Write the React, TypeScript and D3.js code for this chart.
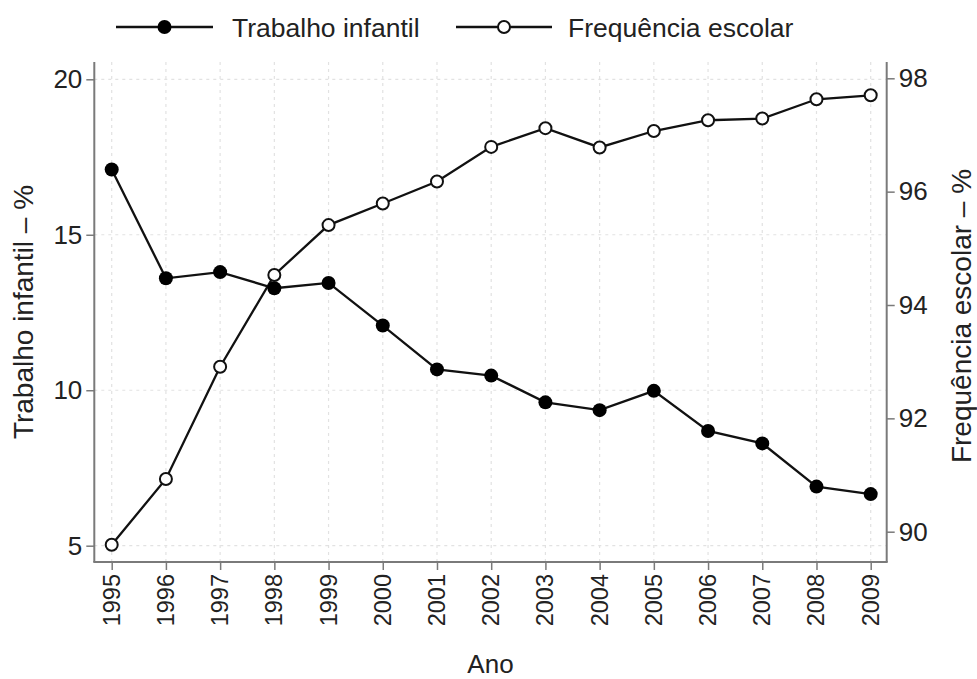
import { useEffect, useRef } from 'react';
import * as d3 from 'd3';

const years = [1995, 1996, 1997, 1998, 1999, 2000, 2001, 2002, 2003, 2004, 2005, 2006, 2007, 2008, 2009];
const trabalhoInfantil = [17.1, 13.6, 13.8, 13.28, 13.45, 12.08, 10.67, 10.47, 9.61, 9.36, 9.98, 8.69, 8.29, 6.9, 6.66];
const frequenciaEscolar = [89.77, 90.93, 92.91, 94.53, 95.41, 95.79, 96.18, 96.79, 97.12, 96.78, 97.07, 97.26, 97.29, 97.63, 97.7];
const leftTicks = [5, 10, 15, 20];
const rightTicks = [90, 92, 94, 96, 98];

const FONT = '"Liberation Sans", Arial, Helvetica, sans-serif';

const App: React.FC = () => {
  const svgRef = useRef<SVGSVGElement | null>(null);

  useEffect(() => {
    if (svgRef.current === null) return;
    const svg = d3.select(svgRef.current);
    svg.selectAll('*').remove();

    const width = 977;
    const height = 679;
    // moldura do gráfico
    const left = 94.3;
    const right = 886.7;
    const top = 62;
    const bottom = 562;

    const x = d3.scaleLinear().domain([1995, 2009]).range([111.7, 870.7]);
    const yLeft = d3.scaleLinear().domain([5, 20]).range([545.7, 79.3]);
    const yRight = d3.scaleLinear().domain([90, 98]).range([531.7, 78.3]);

    svg.attr('width', width).attr('height', height);
    svg.append('rect').attr('width', width).attr('height', height).attr('fill', '#fff');

    // grade
    const grid = svg.append('g').attr('stroke', '#e2e2e2').attr('stroke-width', 1.2).attr('stroke-dasharray', '3,4');
    grid
      .selectAll('.vgrid')
      .data(years)
      .enter()
      .append('line')
      .attr('x1', (d) => x(d))
      .attr('x2', (d) => x(d))
      .attr('y1', top)
      .attr('y2', bottom);
    grid
      .selectAll('.hgrid')
      .data(leftTicks)
      .enter()
      .append('line')
      .attr('x1', left)
      .attr('x2', right)
      .attr('y1', (d) => yLeft(d))
      .attr('y2', (d) => yLeft(d));

    const axisColor = '#7a7a7a';
    const textColor = '#222';

    // eixo esquerdo
    const gl = svg.append('g').attr('transform', `translate(${left},0)`);
    gl.call(d3.axisLeft(yLeft).tickValues(leftTicks).tickSize(8).tickPadding(4).tickFormat(d3.format('d')));
    gl.select('.domain').remove();
    gl.selectAll('.tick line').attr('stroke', axisColor).attr('stroke-width', 1.5);
    gl.selectAll('.tick text').attr('fill', textColor).style('font-size', '26px').style('font-family', FONT);

    // eixo direito
    const gr = svg.append('g').attr('transform', `translate(${right},0)`);
    gr.call(d3.axisRight(yRight).tickValues(rightTicks).tickSize(8).tickPadding(4).tickFormat(d3.format('d')));
    gr.select('.domain').remove();
    gr.selectAll('.tick line').attr('stroke', axisColor).attr('stroke-width', 1.5);
    gr.selectAll('.tick text').attr('fill', textColor).style('font-size', '26px').style('font-family', FONT);

    // eixo dos anos
    const gb = svg.append('g').attr('transform', `translate(0,${bottom})`);
    gb.call(d3.axisBottom(x).tickValues(years).tickSize(8).tickPadding(4).tickFormat(d3.format('d')));
    gb.select('.domain').remove();
    gb.selectAll('.tick line').attr('stroke', axisColor).attr('stroke-width', 1.5);
    gb.selectAll('.tick text')
      .attr('fill', textColor)
      .style('font-size', '23.5px')
      .style('font-family', FONT)
      .attr('text-anchor', 'end')
      .attr('dy', '0.36em')
      .attr('transform', 'translate(-1,12) rotate(-90)')
      .attr('y', 0)
      .attr('x', 0);

    // linhas da moldura
    const frame = svg.append('g').attr('stroke', axisColor).attr('stroke-width', 2).attr('fill', 'none');
    frame.append('line').attr('x1', left).attr('x2', left).attr('y1', top).attr('y2', bottom);
    frame.append('line').attr('x1', right).attr('x2', right).attr('y1', top).attr('y2', bottom);
    frame.append('line').attr('x1', left - 1).attr('x2', right + 1).attr('y1', bottom).attr('y2', bottom);

    // séries
    const lineLeft = d3
      .line<number>()
      .x((_, i) => x(years[i]))
      .y((d) => yLeft(d));
    const lineRight = d3
      .line<number>()
      .x((_, i) => x(years[i]))
      .y((d) => yRight(d));

    svg
      .append('path')
      .datum(trabalhoInfantil)
      .attr('d', lineLeft)
      .attr('fill', 'none')
      .attr('stroke', '#111')
      .attr('stroke-width', 2.3);
    svg
      .append('path')
      .datum(frequenciaEscolar)
      .attr('d', lineRight)
      .attr('fill', 'none')
      .attr('stroke', '#111')
      .attr('stroke-width', 2.3);

    svg
      .selectAll('.dot-ti')
      .data(trabalhoInfantil)
      .enter()
      .append('circle')
      .attr('cx', (_, i) => x(years[i]))
      .attr('cy', (d) => yLeft(d))
      .attr('r', 7)
      .attr('fill', '#000');
    svg
      .selectAll('.dot-fe')
      .data(frequenciaEscolar)
      .enter()
      .append('circle')
      .attr('cx', (_, i) => x(years[i]))
      .attr('cy', (d) => yRight(d))
      .attr('r', 6)
      .attr('fill', '#fff')
      .attr('stroke', '#111')
      .attr('stroke-width', 2);

    // títulos dos eixos
    svg
      .append('text')
      .attr('transform', `translate(33,${(top + bottom) / 2}) rotate(-90)`)
      .attr('text-anchor', 'middle')
      .attr('fill', textColor)
      .style('font-size', '28px')
      .style('font-family', FONT)
      .text('Trabalho infantil – %');
    svg
      .append('text')
      .attr('transform', `translate(971,${(top + bottom) / 2 + 4}) rotate(-90)`)
      .attr('text-anchor', 'middle')
      .attr('fill', textColor)
      .style('font-size', '28px')
      .style('font-family', FONT)
      .text('Frequência escolar – %');
    svg
      .append('text')
      .attr('x', (left + right) / 2)
      .attr('y', 673)
      .attr('text-anchor', 'middle')
      .attr('fill', textColor)
      .style('font-size', '26px')
      .style('font-family', FONT)
      .text('Ano');

    // legenda
    const legendItems = [
      { label: 'Trabalho infantil', filled: true, x0: 116, x1: 213, tx: 232 },
      { label: 'Frequência escolar', filled: false, x0: 456, x1: 552, tx: 568 },
    ];
    const ly = 27;
    const lg = svg.append('g');
    legendItems.forEach((item) => {
      lg.append('line')
        .attr('x1', item.x0)
        .attr('x2', item.x1)
        .attr('y1', ly)
        .attr('y2', ly)
        .attr('stroke', '#111')
        .attr('stroke-width', 2.3);
      lg.append('circle')
        .attr('cx', (item.x0 + item.x1) / 2)
        .attr('cy', ly)
        .attr('r', item.filled ? 7 : 6)
        .attr('fill', item.filled ? '#000' : '#fff')
        .attr('stroke', '#111')
        .attr('stroke-width', item.filled ? 0 : 2);
      lg.append('text')
        .attr('x', item.tx)
        .attr('y', ly)
        .attr('dy', '0.36em')
        .attr('fill', textColor)
        .style('font-size', '26.5px')
        .style('font-family', FONT)
        .text(item.label);
    });
  }, []);

  return <svg ref={svgRef} style={{ position: 'absolute', left: 0, top: 0, display: 'block' }}></svg>;
};

export default App;
